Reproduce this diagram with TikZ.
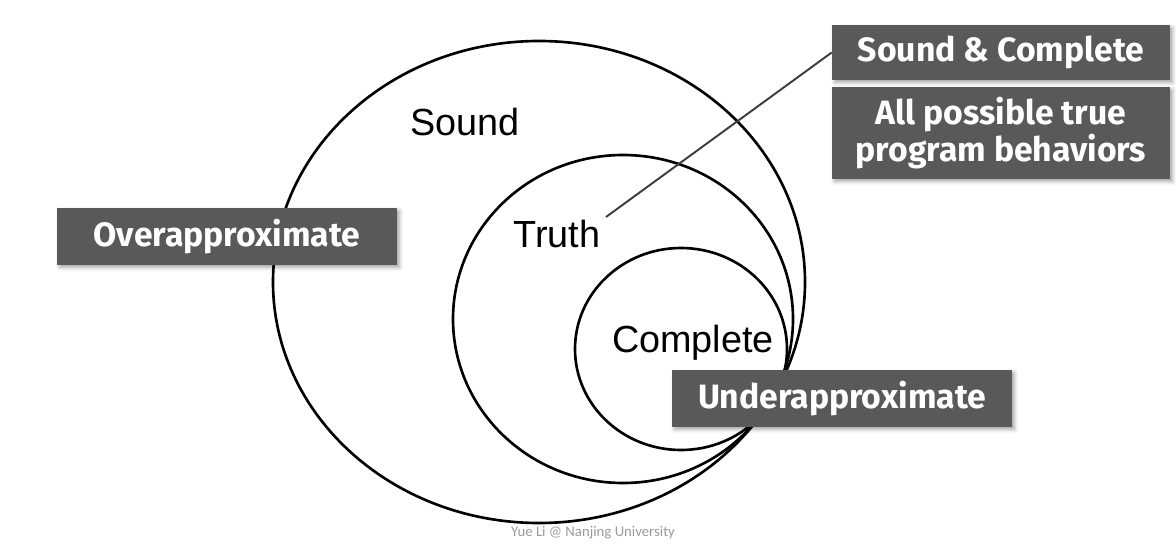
\documentclass[tikz,border=0pt]{standalone}
\usepackage{fontspec}
\setmainfont{Liberation Sans}
\newfontfamily\tagfont{Fira Sans}
\newfontfamily\footfont{Carlito}
\usetikzlibrary{shadows.blur}

\definecolor{tagfill}{HTML}{595959}
\definecolor{footgray}{HTML}{9A9A9A}
\definecolor{pointergray}{HTML}{3C3C3C}

\tikzset{
	setline/.style={line width=1.5pt},
	region/.style={font=\fontsize{21.5}{24}\selectfont, anchor=base, inner sep=0pt},
	tag/.style={fill=tagfill, text=white, font=\tagfont\bfseries\fontsize{19.2}{17.5}\selectfont,
		align=center, inner sep=0pt,
		blur shadow={shadow xshift=1.5pt, shadow yshift=-1.5pt, shadow blur steps=4, shadow opacity=35}},
	pointer/.style={line width=1.1pt, pointergray},
}

\begin{document}
\begin{tikzpicture}[x=0.02cm, y=-0.02cm]

	\useasboundingbox (0, 0) rectangle (1176, 557);

	\node (credit) [font=\footfont\fontsize{8.4}{10}\selectfont, text=footgray] at (593, 533) {Yue Li @ Nanjing University};

	% three nested sets touching at one point behind the lower tag
	\draw[setline] (539, 282) ellipse [x radius=266, y radius=241];
	\draw[setline] (623, 319) ellipse [x radius=170, y radius=164];
	\draw[setline] (681, 349) ellipse [x radius=106, y radius=101];

	\node (sound) [region] at (465, 136) {Sound};
	\node (truth) [region] at (557, 248) {Truth};
	\node (complete) [region] at (693, 352) {Complete};

	\node (over) [tag, minimum width=6.8cm, minimum height=1.14cm] at (227, 236.5) {Overapproximate};
	\node (under) [tag, minimum width=6.8cm, minimum height=1.14cm] at (842, 398.5) {Underapproximate};
	\node (sc) [tag, minimum width=6.76cm, minimum height=1.1cm] at (1001, 52.5) {Sound \& Complete};
	\node (allpb) [tag, minimum width=6.76cm, minimum height=1.84cm] at (1001, 133) {All possible true\\program behaviors};

	\coordinate (truthtip) at (606, 217);
	\draw[pointer] (truthtip) -- (sc.west);

\end{tikzpicture}
\end{document}
